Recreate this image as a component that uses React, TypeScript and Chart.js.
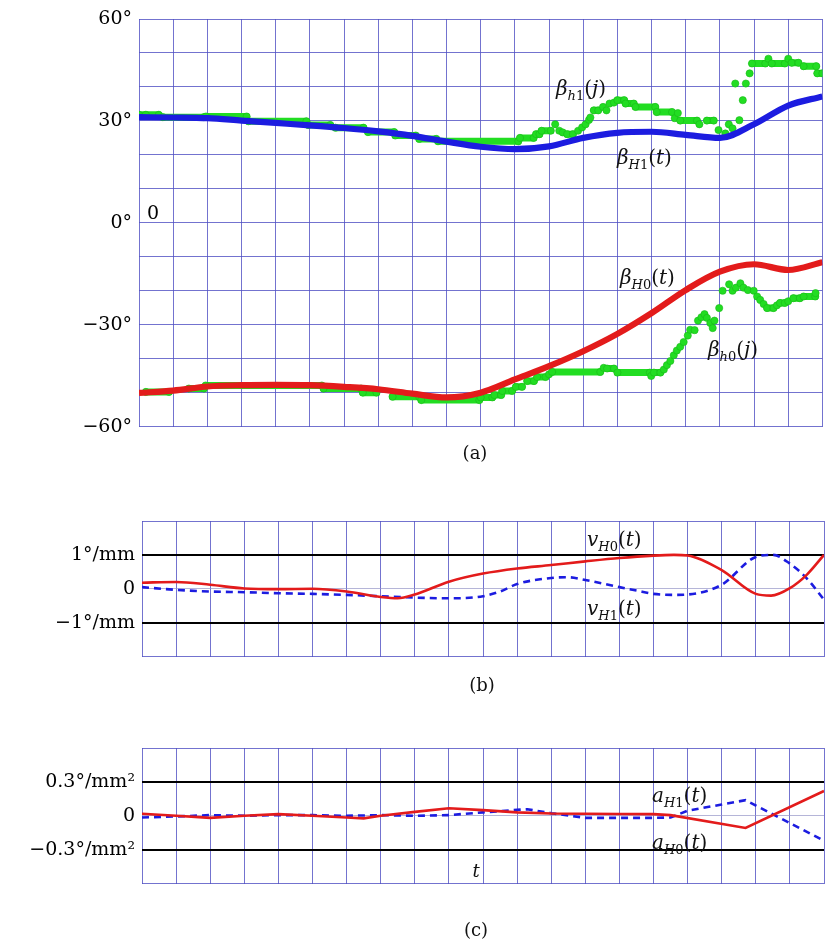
import React, { useEffect, useRef } from "react";
import { Chart, registerables } from "chart.js";

Chart.register(...registerables);

// ---------- data ----------
const tSteps = [0, 1, 2, 3, 4, 5, 6, 7, 8, 9, 10, 11, 12, 13, 14, 15, 16, 17, 18, 19, 20];

const betaH1 = [31.1, 31.0, 30.8, 30.1, 29.4, 28.7, 27.9, 26.9, 25.6, 23.9, 22.4, 21.7, 22.5, 25.0, 26.5, 26.8, 25.9, 25.0, 29.0, 34.5, 37.2];
const betaH0 = [-50.1, -49.4, -48.2, -47.8, -47.7, -47.8, -48.3, -49.0, -50.3, -51.4, -50.0, -46.1, -42.2, -37.8, -32.7, -26.6, -19.8, -14.4, -12.2, -13.9, -11.6];

const betaH1j: [number, number][] = [
  [0, 31.8], [0.2, 31.8], [0.58, 31.8], [0.7, 31.1], [1.9, 31.1], [1.96, 31.3], [3.15, 31.3],
  [3.2, 29.9], [4.9, 29.9], [4.95, 28.8], [5.6, 28.8], [5.75, 28.0], [6.57, 28.0],
  [6.7, 26.7], [7.47, 26.7], [7.5, 25.7], [8.1, 25.7], [8.2, 24.7], [8.7, 24.7],
  [8.75, 24.0], [11.1, 24.0], [11.15, 25.0], [11.55, 25.0], [11.62, 26.1], [11.72, 26.1],
  [11.78, 27.1], [12.05, 27.1], [12.18, 29.0], [12.3, 27.1], [12.4, 26.6], [12.53, 26.1],
  [12.7, 26.1], [12.85, 27.1], [12.97, 28.1], [13.07, 29.0], [13.17, 30.3], [13.21, 31.0],
  [13.31, 33.1], [13.44, 33.1], [13.58, 34.1], [13.68, 33.1], [13.77, 35.1], [13.9, 35.4],
  [14.0, 36.1], [14.2, 36.1], [14.24, 35.1], [14.48, 35.1], [14.53, 34.1], [15.11, 34.1],
  [15.15, 32.6], [15.6, 32.6], [15.68, 30.8], [15.77, 32.3], [15.84, 30.1], [16.33, 30.1],
  [16.4, 29.0], [16.62, 30.1], [16.82, 30.1], [16.96, 27.3], [17.16, 26.3], [17.26, 29.0],
  [17.37, 27.8], [17.45, 41.0], [17.57, 30.2], [17.67, 36.1], [17.76, 41.0], [17.87, 44.0],
  [17.94, 46.9], [18.33, 46.9], [18.42, 48.3], [18.52, 46.9], [18.9, 46.9], [19.0, 48.3],
  [19.1, 47.1], [19.3, 47.1], [19.45, 46.1], [19.82, 46.1], [19.85, 44.0], [20, 44.0],
];

const betaH0j: [number, number][] = [
  [0.2, -49.8], [0.88, -49.8], [1.46, -48.8], [1.9, -48.8], [1.95, -47.9], [5.35, -47.9],
  [5.4, -48.8], [6.5, -48.8], [6.55, -50.0], [6.95, -50.0], [7.42, -51.2], [8.2, -51.2],
  [8.26, -52.2], [9.96, -52.2], [10.0, -51.4], [10.34, -51.4], [10.4, -50.7], [10.6, -50.7],
  [10.63, -49.5], [10.92, -49.5], [11.03, -48.3], [11.21, -48.3], [11.36, -46.6], [11.56, -46.6],
  [11.65, -45.4], [11.9, -45.4], [12.0, -44.6], [12.09, -43.9], [13.5, -43.9], [13.6, -42.7],
  [13.7, -42.9], [13.9, -42.9], [14.0, -44.1], [14.95, -44.1], [14.99, -45.1], [15.07, -44.1],
  [15.26, -44.1], [15.36, -43.2], [15.45, -41.9], [15.55, -40.7], [15.65, -39.0], [15.74, -37.6],
  [15.84, -36.5], [15.94, -35.1], [16.06, -33.2], [16.13, -31.5], [16.26, -31.6], [16.36, -28.8],
  [16.46, -27.8], [16.55, -26.9], [16.62, -28.0], [16.72, -29.5], [16.79, -31.0], [16.84, -28.8],
  [16.98, -25.1], [17.08, -20.0], [17.27, -18.1], [17.37, -20.0], [17.47, -19.1], [17.6, -17.8],
  [17.69, -19.1], [17.82, -19.8], [17.99, -20.0], [18.09, -21.7], [18.18, -22.7], [18.28, -23.9],
  [18.38, -25.1], [18.57, -25.1], [18.67, -24.3], [18.76, -23.6], [18.9, -23.6], [19.0, -23.1],
  [19.15, -22.2], [19.34, -22.2], [19.45, -21.7], [19.79, -21.7], [19.8, -20.7],
];

const vH0: [number, number][] = [
  [0, 0.18], [1, 0.2], [2, 0.12], [3, 0.01], [4, -0.01], [5, 0], [6, -0.08], [7, -0.24], [7.5, -0.28],
  [8, -0.17], [9, 0.21], [10, 0.45], [11, 0.6], [12, 0.7], [13, 0.81], [14, 0.91], [15, 0.98],
  [15.6, 1.0], [16, 0.98], [17, 0.55], [18, -0.15], [18.45, -0.2], [19, 0.02], [19.5, 0.42], [20, 1.0],
];
const vH1: [number, number][] = [
  [0, 0.05], [1, -0.03], [2, -0.08], [3, -0.1], [4, -0.13], [5, -0.15], [6, -0.18], [7, -0.22],
  [8, -0.26], [9, -0.28], [10, -0.22], [10.5, -0.08], [11, 0.14], [12, 0.32], [12.5, 0.34], [13, 0.26],
  [14, 0.05], [14.5, -0.05], [15, -0.15], [15.7, -0.18], [16, -0.17], [17, 0.12], [18, 0.94],
  [18.5, 1.0], [19, 0.74], [19.5, 0.3], [20, -0.32],
];

const aH0: [number, number][] = [
  [0, 0.018], [1, 0], [2, -0.018], [3, 0], [4, 0.015], [5, 0], [6, -0.015], [6.5, -0.023], [7, 0],
  [8, 0.035], [9, 0.067], [10, 0.05], [11, 0.03], [12, 0.02], [13, 0.018], [14, 0.016], [15, 0.015],
  [15.5, 0.006], [17.7, -0.108], [20, 0.22],
];
const aH1: [number, number][] = [
  [0, -0.015], [1, -0.006], [2, 0.006], [3, 0], [4, 0.006], [5, 0.006], [6, 0], [7, 0.006], [8, 0],
  [9, 0.006], [10, 0.03], [11, 0.053], [11.3, 0.058], [12, 0.023], [13, -0.018], [14, -0.018],
  [15, -0.018], [15.5, -0.015], [16, 0.045], [17, 0.1], [17.7, 0.138], [20, -0.22],
];

const xTicks = tSteps;
const yTicksA = [-60, -50, -40, -30, -20, -10, 0, 10, 20, 30, 40, 50, 60];
const yLabelValA = [60, 30, 0, -30, -60];
const yLabelTxtA = ["60°", "30°", "0°", "−30°", "−60°"];
const yTicksB = [-2, -1, 0, 1, 2];
const yLabelValB = [1, 0, -1];
const yLabelTxtB = ["1°/mm", "0", "−1°/mm"];
const yTicksC = [-0.6, -0.3, 0, 0.3, 0.6];
const yLabelValC = [0.3, 0, -0.3];
const yLabelTxtC = ["0.3°/mm²", "0", "−0.3°/mm²"];

// ---------- styles ----------
const GRID = "rgba(80,80,195,0.8)";
const BLUE = "#1c1ce0";
const RED = "#e31b1b";
const GREEN = "#22dd22";
const TICK_FONT = "DejaVu Serif";

const toXY = (pts: [number, number][]) => pts.map(([x, y]) => ({ x, y }));

function labelFor(vals: number[], txts: string[]) {
  return (v: number | string) => {
    const n = Number(v);
    const i = vals.findIndex((q) => Math.abs(q - n) < 1e-9);
    return i >= 0 ? txts[i] : "";
  };
}

function baseOptions(opts: {
  yTicks: number[];
  yMin: number;
  yMax: number;
  label: (v: any) => string;
  axisWidth: number;
  padding: { top: number; bottom: number; right: number };
  gridColor?: (v: number) => string;
  gridWidth?: (v: number) => number;
  fontSize: number;
}) {
  return {
    responsive: false,
    animation: false as const,
    devicePixelRatio: 1,
    layout: { padding: { left: 0, ...opts.padding } },
    plugins: { legend: { display: false }, tooltip: { enabled: false } },
    events: [] as any[],
    scales: {
      x: {
        type: "linear" as const,
        min: 0,
        max: 20,
        afterBuildTicks: (s: any) => {
          s.ticks = xTicks.map((v) => ({ value: v }));
        },
        afterFit: (s: any) => {
          s.height = 0;
        },
        ticks: { display: false },
        grid: { color: GRID, lineWidth: 1, drawTicks: false },
        border: { display: false },
      },
      y: {
        type: "linear" as const,
        min: opts.yMin,
        max: opts.yMax,
        afterBuildTicks: (s: any) => {
          s.ticks = opts.yTicks.map((v) => ({ value: v }));
        },
        afterFit: (s: any) => {
          s.width = opts.axisWidth;
        },
        ticks: {
          callback: opts.label,
          color: "#000",
          padding: 7,
          autoSkip: false,
          font: { family: TICK_FONT, size: opts.fontSize },
        },
        grid: {
          drawTicks: false,
          color: (c: any) => (opts.gridColor ? opts.gridColor(c.tick.value) : GRID),
          lineWidth: (c: any) => (opts.gridWidth ? opts.gridWidth(c.tick.value) : 1),
        },
        border: { display: false },
      },
    },
  };
}

function greenDots(pts: [number, number][]) {
  return {
    data: toXY(pts),
    showLine: true,
    borderColor: GREEN,
    borderWidth: 7,
    borderCapStyle: "round" as const,
    pointRadius: 3.6,
    pointBackgroundColor: GREEN,
    pointBorderColor: "#17b817",
    pointBorderWidth: 0.6,
    segment: {
      borderColor: (ctx: any) =>
        Math.abs(ctx.p0.parsed.y - ctx.p1.parsed.y) < 1e-6 ? GREEN : "rgba(0,0,0,0)",
    },
    order: 5,
  };
}

function thickCurve(ys: number[], color: string) {
  return {
    data: tSteps.map((x, i) => ({ x, y: ys[i] })),
    showLine: true,
    borderColor: color,
    borderWidth: 6.2,
    pointRadius: 0,
    cubicInterpolationMode: "monotone" as const,
    order: 1,
  };
}

function thinCurve(pts: [number, number][], color: string, dashed: boolean, smooth: boolean) {
  return {
    data: toXY(pts),
    showLine: true,
    borderColor: color,
    borderWidth: 2.6,
    borderDash: dashed ? [7, 5] : [],
    pointRadius: 0,
    cubicInterpolationMode: smooth ? ("monotone" as const) : ("default" as const),
    tension: 0,
    order: dashed ? 2 : 1,
  };
}

const configA = () => ({
  type: "scatter" as const,
  data: {
    datasets: [
      thickCurve(betaH1, BLUE),
      thickCurve(betaH0, RED),
      greenDots(betaH1j),
      greenDots(betaH0j),
    ],
  },
  options: baseOptions({
    yTicks: yTicksA,
    yMin: -60,
    yMax: 60,
    label: labelFor(yLabelValA, yLabelTxtA),
    axisWidth: 139,
    padding: { top: 19, bottom: 16, right: 3 },
    fontSize: 19,
  }),
});

const lineGridColor = (v: number) =>
  Math.abs(Math.abs(v) - 2) < 1e-9 || Math.abs(Math.abs(v) - 0.6) < 1e-9
    ? GRID
    : Math.abs(v) < 1e-9
    ? "rgba(150,150,200,0.7)"
    : "#000";
const lineGridWidth = (v: number) =>
  Math.abs(v) < 1e-9 || Math.abs(Math.abs(v) - 2) < 1e-9 || Math.abs(Math.abs(v) - 0.6) < 1e-9 ? 1 : 2;

const configB = () => ({
  type: "scatter" as const,
  data: {
    datasets: [thinCurve(vH0, RED, false, true), thinCurve(vH1, BLUE, true, true)],
  },
  options: baseOptions({
    yTicks: yTicksB,
    yMin: -2,
    yMax: 2,
    label: labelFor(yLabelValB, yLabelTxtB),
    axisWidth: 142,
    padding: { top: 21, bottom: 18, right: 3 },
    gridColor: lineGridColor,
    gridWidth: lineGridWidth,
    fontSize: 19,
  }),
});

const configC = () => ({
  type: "scatter" as const,
  data: {
    datasets: [thinCurve(aH0, RED, false, false), thinCurve(aH1, BLUE, true, false)],
  },
  options: baseOptions({
    yTicks: yTicksC,
    yMin: -0.6,
    yMax: 0.6,
    label: labelFor(yLabelValC, yLabelTxtC),
    axisWidth: 142,
    padding: { top: 21, bottom: 18, right: 3 },
    gridColor: lineGridColor,
    gridWidth: lineGridWidth,
    fontSize: 19,
  }),
});

function ChartCanvas({ make, top, height }: { make: () => any; top: number; height: number }) {
  const ref = useRef<HTMLCanvasElement>(null);
  useEffect(() => {
    const chart = new Chart(ref.current as HTMLCanvasElement, make());
    return () => chart.destroy();
  }, []);
  return (
    <canvas
      ref={ref}
      width={827}
      height={height}
      style={{ position: "absolute", left: 0, top, width: 827, height }}
    />
  );
}

const mathFont = "'DejaVu Serif', serif";

function Sym({ base, sub, arg, left, top }: { base: string; sub: [string, string]; arg: string; left: number; top: number }) {
  return (
    <div
      style={{
        position: "absolute",
        left,
        top,
        fontFamily: mathFont,
        fontSize: 20,
        lineHeight: "22px",
        whiteSpace: "nowrap",
        color: "#111",
      }}
    >
      <i>{base}</i>
      <span style={{ fontSize: 13, position: "relative", top: 5 }}>
        <i>{sub[0]}</i>
        {sub[1]}
      </span>
      (<i>{arg}</i>)
    </div>
  );
}

function Caption({ text, cx, top, italic }: { text: string; cx: number; top: number; italic?: boolean }) {
  return (
    <div
      style={{
        position: "absolute",
        left: cx - 30,
        width: 60,
        top,
        textAlign: "center",
        fontFamily: mathFont,
        fontSize: 18,
        lineHeight: "20px",
        fontStyle: italic ? "italic" : "normal",
        color: "#111",
      }}
    >
      {text}
    </div>
  );
}

export default function App() {
  return (
    <div style={{ position: "absolute", left: 0, top: 0, width: 827, height: 940, background: "#fff", overflow: "hidden" }}>
      <ChartCanvas make={configA} top={0} height={445} />
      <ChartCanvas make={configB} top={500} height={175} />
      <ChartCanvas make={configC} top={727} height={175} />

      <div style={{ position: "absolute", left: 147, top: 201, fontFamily: mathFont, fontSize: 19, lineHeight: "22px" }}>0</div>

      <Sym base="β" sub={["h", "1"]} arg="j" left={556} top={77} />
      <Sym base="β" sub={["H", "1"]} arg="t" left={617} top={146} />
      <Sym base="β" sub={["H", "0"]} arg="t" left={620} top={266} />
      <Sym base="β" sub={["h", "0"]} arg="j" left={708} top={338} />

      <Sym base="v" sub={["H", "0"]} arg="t" left={587} top={528} />
      <Sym base="v" sub={["H", "1"]} arg="t" left={587} top={597} />
      <Sym base="a" sub={["H", "1"]} arg="t" left={652} top={784} />
      <Sym base="a" sub={["H", "0"]} arg="t" left={652} top={831} />

      <Caption text="(a)" cx={475} top={443} />
      <Caption text="(b)" cx={482} top={675} />
      <Caption text="t" cx={476} top={861} italic />
      <Caption text="(c)" cx={476} top={920} />
    </div>
  );
}
